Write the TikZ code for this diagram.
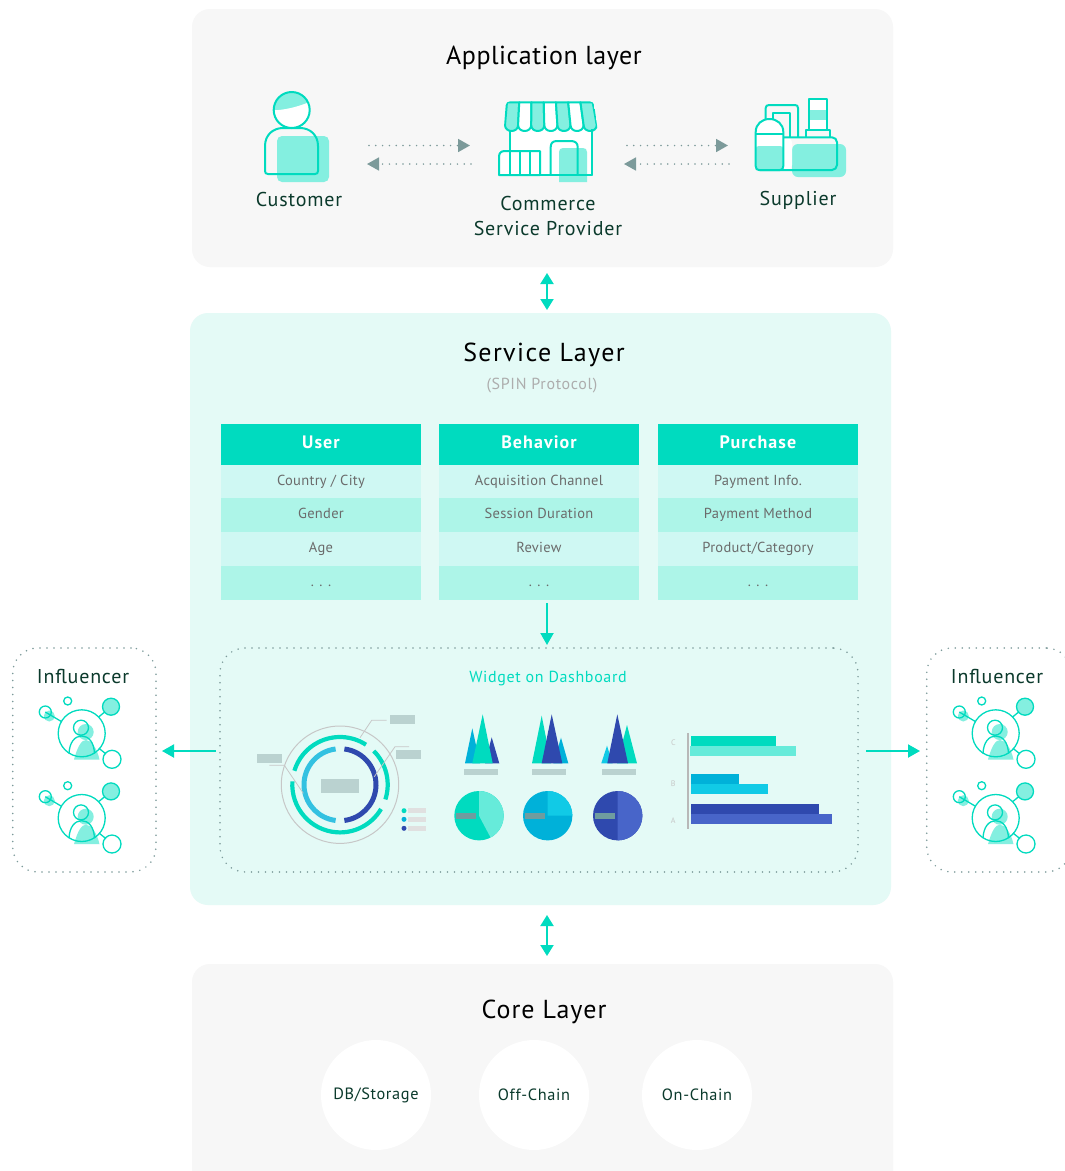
\documentclass[tikz,border=0pt]{standalone}
\usepackage{fontspec}
\setmainfont{PT Sans}
\newfontfamily\spA[LetterSpace=2]{PT Sans}
\newfontfamily\spB[LetterSpace=4]{PT Sans}
\newfontfamily\spD[LetterSpace=5.3]{PT Sans}
\newfontfamily\spC[LetterSpace=6]{PT Sans}
\usetikzlibrary{arrows.meta}
\definecolor{teal}{HTML}{00DBBF}
\definecolor{lightt}{HTML}{84EFE0}
\definecolor{panel}{HTML}{F7F7F7}
\definecolor{svc}{HTML}{E4FAF6}
\definecolor{rowa}{HTML}{CFF8F3}
\definecolor{rowb}{HTML}{ADF5E8}
\definecolor{dgreen}{HTML}{0B3A2C}
\definecolor{dotc}{HTML}{7C9A9A}
\definecolor{tagc}{HTML}{BAD2D0}
\definecolor{navy}{HTML}{2F49AE}
\definecolor{navyl}{HTML}{4865C9}
\definecolor{blu}{HTML}{00B1D9}
\definecolor{blul}{HTML}{11CAE6}
\definecolor{tealx}{HTML}{66EBDA}
\definecolor{piec}{HTML}{6F9C9F}
\tikzset{
  layerbox/.style={rectangle,rounded corners=18pt,inner sep=0pt,draw=none},
  dotbox/.style={rectangle,rounded corners=25pt,inner sep=0pt,draw=dotc,line width=1.7pt,line cap=round,dash pattern=on 0pt off 7pt},
  ttl/.style={inner sep=0pt,font=\fontsize{26}{30}\spA,text=black},
  lbl/.style={inner sep=0pt,font=\fontsize{20}{24}\spB,text=dgreen},
  corelbl/.style={circle,fill=white,minimum size=110pt,inner sep=0pt,font=\fontsize{16.3}{20}\spB,text=dgreen},
  cellbase/.style={rectangle,inner sep=0pt,minimum width=200pt,text depth=.19em,text height=.95em},
  heads/.style={cellbase,fill=teal,minimum height=41pt,text=white,font=\fontsize{18}{22}\spC\bfseries},
  rowA/.style={cellbase,fill=rowa,minimum height=33.5pt,text=black!58,font=\fontsize{14.5}{18}\spA},
  rowB/.style={cellbase,fill=rowb,minimum height=33.5pt,text=black!58,font=\fontsize{14.5}{18}\spA},
  dotarrow/.style={draw=dotc,line width=1.7pt,line cap=round,dash pattern=on 0pt off 6.8pt,-{Triangle[length=12pt,width=13pt,fill=dotc]}},
  solidarrow/.style={draw=teal,line width=2pt,-{Triangle[length=12pt,width=13pt,fill=teal]}},
  bothways/.style={draw=teal,line width=2pt,{Triangle[length=11pt,width=13pt,fill=teal]}-{Triangle[length=11pt,width=13pt,fill=teal]}},
  icon/.style={draw=teal,line width=2pt,line join=round},
  thinicon/.style={draw=teal,line width=1.3pt},
  leader/.style={draw=black!22,line width=.8pt},
  influencer/.pic={
    \fill[lightt] (49.3,716) circle[radius=5.5pt];
    \fill[lightt] (85.7,732) circle[radius=8pt];
    \fill[lightt] (74,759.5) .. controls (78,745) and (82,740) .. (86,740) .. controls (91,740) and (97,748) .. (99.5,759.5) -- cycle;
    \fill[lightt] (111,706.7) circle[radius=8.5pt];
    \draw[thinicon] (81.7,733.3) circle[radius=23.5pt];
    \draw[thinicon] (111,706.7) circle[radius=8.5pt];
    \draw[thinicon] (67.7,701) circle[radius=4pt];
    \draw[thinicon] (45.3,712) circle[radius=6pt];
    \draw[thinicon] (112,759.3) circle[radius=9pt];
    \draw[thinicon] (45.3,712) -- (61.7,721.7);
    \draw[thinicon] (99,716.7) -- (105,711.7);
    \draw[thinicon] (99,748.3) -- (106,754);
    \draw[thinicon] (81,727.7) circle[radius=7.5pt];
    \draw[thinicon] (69,753.5) .. controls (69.5,742) and (75,736) .. (81.7,736) .. controls (88.5,736) and (94,742) .. (94.5,753.5);
  },
}
\begin{document}
\begin{tikzpicture}[x=1pt,y=-1pt]
\useasboundingbox (0,0) rectangle (1065,1171);
\clip (0,0) rectangle (1065,1171);
\fill[white] (0,0) rectangle (1065,1171);

% layers
\node[layerbox,fill=panel,minimum width=701pt,minimum height=258pt] (app) at (542.5,138) {};
\node[layerbox,fill=svc,minimum width=701pt,minimum height=592pt] (svc) at (540.5,609) {};
\node[layerbox,fill=panel,minimum width=701pt,minimum height=227pt] (core) at (542.5,1077.5) {};

\node[ttl] (appT) at (544,58) {Application layer};
\node[ttl,font=\fontsize{26}{30}\spD] (svcT) at (544,355) {Service Layer};
\node[inner sep=0pt,font=\fontsize{16}{20}\spB,text=black!32] (svcS) at (542,386) {(SPIN Protocol)};
\node[ttl,font=\fontsize{26}{30}\spB] (coreT) at (544,1012) {Core Layer};

% customer
\fill[lightt,rounded corners=5pt] (277,136) rectangle (329,182);
\begin{scope}
\clip (291.7,110) circle[radius=18pt];
\fill[white] (270,90) rectangle (315,130);
\fill[lightt] (270,90) rectangle (315,110) ;
\fill[white] (272,110.5) .. controls (285,110) and (298,107) .. (312,101) -- (315,130) -- (270,130) -- cycle;
\end{scope}
\draw[icon] (291.7,110) circle[radius=18pt];
\draw[icon] (268,174) -- (315,174) .. controls (317,174) and (318,173) .. (318,171) -- (318,146) .. controls (318,135) and (310,128) .. (300,128) -- (283,128) .. controls (273,128) and (265,135) .. (265,146) -- (265,171) .. controls (265,173) and (266,174) .. (268,174) -- cycle;
\node[lbl] (customer) at (299,199) {Customer};

% store
\fill[white] (510,125) rectangle (592,175);
\fill[white] (499,151) rectangle (540,175);
\begin{scope}
\clip[rounded corners=4pt] (506,101.3) -- (593.7,101.3) -- (599,140) -- (503,140) -- cycle;
\foreach \i in {0,...,6}{
  \pgfmathsetmacro{\xa}{507+\i*12.24}
  \pgfmathsetmacro{\xb}{507+(\i+1)*12.24}
  \pgfmathsetmacro{\xc}{505+\i*13.1}
  \pgfmathsetmacro{\xd}{505+(\i+1)*13.1}
  \pgfmathparse{int(mod(\i,2))}
  \ifnum\pgfmathresult=0 \def\stripe{lightt}\else\def\stripe{white}\fi
  \draw[icon,fill=\stripe] (\xa,102.3) -- (\xc,125) .. controls (\xc,133) and (\xd,133) .. (\xd,125) -- (\xb,102.3) -- cycle;
}
\end{scope}
\draw[icon] (510,130) -- (510,151);
\draw[icon] (591.7,129) -- (591.7,175) -- (540,175);
\draw[icon] (540,175) -- (499,175) -- (499,157) .. controls (499,153) and (501,151) .. (505,151) -- (540,151) -- (540,175);
\foreach \v in {510,520,530} \draw[icon] (\v,151) -- (\v,175);
\fill[lightt] (559,182) -- (559,152) .. controls (559,149.5) and (560.5,148) .. (563,148) -- (583,148) .. controls (585.5,148) and (587,149.5) .. (587,152) -- (587,182) -- cycle;
\draw[icon] (591.7,148) -- (591.7,175) -- (559,175);
\draw[icon] (550.7,175) -- (559,175);
\draw[icon] (550.7,175) -- (550.7,147) .. controls (550.7,143) and (553,141) .. (557,141) -- (571,141) .. controls (575,141) and (577.7,143) .. (577.7,147) -- (577.7,175);
\node[lbl] (commerce) at (548,203) {Commerce};
\node[lbl] (provider) at (548,228) {Service Provider};

% supplier
\fill[lightt,rounded corners=6pt] (792,144) rectangle (846,177);
\fill[white,rounded corners=5pt] (783,137.3) rectangle (792,170);
\draw[icon] (765.7,119) -- (765.7,108) .. controls (765.7,106) and (767,105) .. (769,105) -- (795,105) .. controls (797,105) and (798,106) .. (798,108) -- (798,137.3);
\draw[icon,line width=1.6pt] (772.7,121) -- (772.7,113) -- (790,113) -- (790,137.3);
\fill[white] (809.3,98.7) rectangle (826.7,130);
\fill[lightt] (809.3,110) rectangle (826.7,120);
\draw[icon] (809.3,130) -- (809.3,98.7) -- (826.7,98.7) -- (826.7,130);
\draw[icon] (806,137.3) -- (806,130) -- (830,130) -- (830,137.3);
\draw[icon,rounded corners=5pt] (783.3,137.3) -- (837,137.3) -- (837,170) -- (760,170);
\fill[white] (755.7,134) rectangle (783.3,146);
\fill[lightt,rounded corners=3pt] (755.7,146) rectangle (783.3,170);
\fill[white] (755.7,134) -- (755.7,132) .. controls (755.7,124) and (762,119) .. (769.5,119) .. controls (777,119) and (783.3,124) .. (783.3,132) -- (783.3,134) -- cycle;
\draw[icon] (755.7,166) -- (755.7,132) .. controls (755.7,124) and (762,119) .. (769.5,119) .. controls (777,119) and (783.3,124) .. (783.3,132) -- (783.3,166) .. controls (783.3,169) and (782,170) .. (780,170) -- (759,170) .. controls (757,170) and (755.7,169) .. (755.7,166) -- cycle;
\draw[icon] (755.7,134) -- (783.3,134);
\node[lbl] (supplier) at (798,200.5) {Supplier};

% dotted arrows
\coordinate (a1) at (369,145.5); \coordinate (a2) at (470,145.5);
\coordinate (b1) at (471,164); \coordinate (b2) at (367,164);
\coordinate (c1) at (627,145.5); \coordinate (c2) at (728,145.5);
\coordinate (d1) at (729,164); \coordinate (d2) at (624,164);
\draw[dotarrow] (a1) -- (a2);
\draw[dotarrow] (b1) -- (b2);
\draw[dotarrow] (c1) -- (c2);
\draw[dotarrow] (d1) -- (d2);

% vertical arrows
\coordinate (v1) at (547,273); \coordinate (v2) at (547,310);
\coordinate (v3) at (547,915); \coordinate (v4) at (547,956);
\coordinate (v5) at (547,603); \coordinate (v6) at (547,645);
\draw[bothways] (v1) -- (v2);
\draw[bothways] (v3) -- (v4);
\draw[solidarrow] (v5) -- (v6);

% tables
\node[heads] (uh) at (321,444.5) {User};
\node[rowA] (u1) at (321,481.5) {Country / City};
\node[rowB] (u2) at (321,515) {Gender};
\node[rowA] (u3) at (321,549) {Age};
\node[rowB] (u4) at (321,583) {. . .};
\node[heads] (bh) at (539,444.5) {Behavior};
\node[rowA] (b1n) at (539,481.5) {Acquisition Channel};
\node[rowB] (b2n) at (539,515) {Session Duration};
\node[rowA] (b3n) at (539,549) {Review};
\node[rowB] (b4n) at (539,583) {. . .};
\node[heads] (ph) at (758,444.5) {Purchase};
\node[rowA] (p1) at (758,481.5) {Payment Info.};
\node[rowB] (p2) at (758,515) {Payment Method};
\node[rowA] (p3) at (758,549) {Product/Category};
\node[rowB] (p4) at (758,583) {. . .};

% widget box
\node[dotbox,minimum width=638pt,minimum height=224pt] (widget) at (539,760) {};
\node[inner sep=0pt,font=\fontsize{16}{20}\spB,text=teal] (widgetT) at (548,678.5) {Widget on Dashboard};

% radial chart
\begin{scope}[shift={(340,784.7)},y=1pt]
\draw[black!22,line width=1pt] (0,0) circle[radius=58.7pt];
\draw[teal,line width=4.2pt] (57:47.7pt) arc[start angle=57,end angle=163,radius=47.7pt];
\draw[teal,line width=4.2pt] (45:47.7pt) arc[start angle=45,end angle=-18,radius=47.7pt];
\draw[teal,line width=4.2pt] (176:47.7pt) arc[start angle=176,end angle=329.4,radius=47.7pt];
\draw[blu!80!white,line width=5pt] (97:36pt) arc[start angle=97,end angle=263,radius=36pt];
\draw[navy,line width=5pt] (83:36pt) arc[start angle=83,end angle=-83,radius=36pt];
\end{scope}
\fill[tagc] (390,715) rectangle (415,724);
\fill[tagc] (396,750) rectangle (421,759);
\fill[tagc] (257,754) rectangle (282,763);
\fill[tagc] (321,779) rectangle (359,793);
\draw[leader] (386.7,720.3) -- (371.7,720.3) -- (360,737.7);
\draw[leader] (409,746.7) -- (395,746.7) -- (374.3,776.7);
\draw[leader] (269.3,765.3) -- (284.3,765.3) -- (303.3,793.3);
\fill[teal] (404,810.7) circle[radius=2.5pt];
\fill[blu] (404,819.3) circle[radius=2.5pt];
\fill[navy] (404,828.3) circle[radius=2.5pt];
\fill[black!12] (408,808) rectangle (426,813);
\fill[black!12] (408,817) rectangle (426,822);
\fill[black!12] (408,826) rectangle (426,831);

% spikes
\fill[blu] (472.3,728.3) -- (480,763.3) -- (465,763.3) -- cycle;
\fill[navy] (491.7,737.3) -- (499.3,763.3) -- (485,763.3) -- cycle;
\fill[teal] (482.7,714.3) -- (492.7,763.3) -- (472.3,763.3) -- cycle;
\fill[teal] (541.7,715.7) -- (551,763.3) -- (532,763.3) -- cycle;
\fill[blu] (561,737.7) -- (568.3,763.3) -- (553.3,763.3) -- cycle;
\fill[navy] (551.7,714.3) -- (562.3,763.3) -- (541.7,763.3) -- cycle;
\fill[blul] (607,745.7) -- (612.7,763.3) -- (601.3,763.3) -- cycle;
\fill[teal] (627,725) -- (637,763.3) -- (617,763.3) -- cycle;
\fill[navy] (617.3,714.3) -- (628,763.3) -- (607.3,763.3) -- cycle;
\fill[tagc] (464,769) rectangle (498,775);
\fill[tagc] (532,769) rectangle (566,775);
\fill[tagc] (602,769) rectangle (636,775);

% pies
\begin{scope}[shift={(479,815.7)},y=1pt]
\fill[teal] (0,0) circle[radius=24.7pt];
\fill[tealx] (0,0) -- (90:24.7pt) arc[start angle=90,end angle=-62,radius=24.7pt] -- cycle;
\end{scope}
\begin{scope}[shift={(547.7,815.7)},y=1pt]
\fill[blu] (0,0) circle[radius=24.7pt];
\fill[blul] (0,0) -- (90:24.7pt) arc[start angle=90,end angle=0,radius=24.7pt] -- cycle;
\end{scope}
\begin{scope}[shift={(617.7,815.7)},y=1pt]
\fill[navy] (0,0) circle[radius=24.7pt];
\fill[navyl] (0,0) -- (90:24.7pt) arc[start angle=90,end angle=-90,radius=24.7pt] -- cycle;
\end{scope}
\fill[piec] (456,813) rectangle (476,819);
\fill[piec] (525,813) rectangle (545,819);
\fill[piec] (595,813) rectangle (615,819);

% bars
\draw[black!28,line width=2pt] (688,733) -- (688,829);
\node[inner sep=0pt,font=\fontsize{8}{10}\selectfont,text=black!22] (barC) at (673.3,742.3) {C};
\node[inner sep=0pt,font=\fontsize{8}{10}\selectfont,text=black!22] (barB) at (673.3,783.3) {B};
\node[inner sep=0pt,font=\fontsize{8}{10}\selectfont,text=black!22] (barA) at (673.3,821) {A};
\fill[teal] (691,736) rectangle (776,746);
\fill[tealx] (690,746) rectangle (796,756);
\fill[blu] (691,774) rectangle (739,784);
\fill[blul] (691,784) rectangle (768,794);
\fill[navy] (691,804) rectangle (819,814);
\fill[navyl] (691,814) rectangle (832,824);

% influencer boxes
\node[dotbox,minimum width=143.3pt,minimum height=224pt] (infL) at (84.35,760) {};
\node[dotbox,minimum width=144.5pt,minimum height=224pt] (infR) at (999,760) {};
\node[lbl] (infLT) at (83,676) {Influencer};
\node[lbl] (infRT) at (997,676) {Influencer};
\pic at (0,0) {influencer};
\pic at (0,84.7) {influencer};
\pic at (914,0) {influencer};
\pic at (914,84.7) {influencer};
\coordinate (l1) at (216,751); \coordinate (l2) at (162,751);
\coordinate (r1) at (866,751); \coordinate (r2) at (920,751);
\draw[solidarrow] (l1) -- (l2);
\draw[solidarrow] (r1) -- (r2);

% core
\node[corelbl] (db) at (376,1095) {DB/Storage};
\node[corelbl] (off) at (534,1095) {Off-Chain};
\node[corelbl] (on) at (697,1095) {On-Chain};
\end{tikzpicture}
\end{document}
